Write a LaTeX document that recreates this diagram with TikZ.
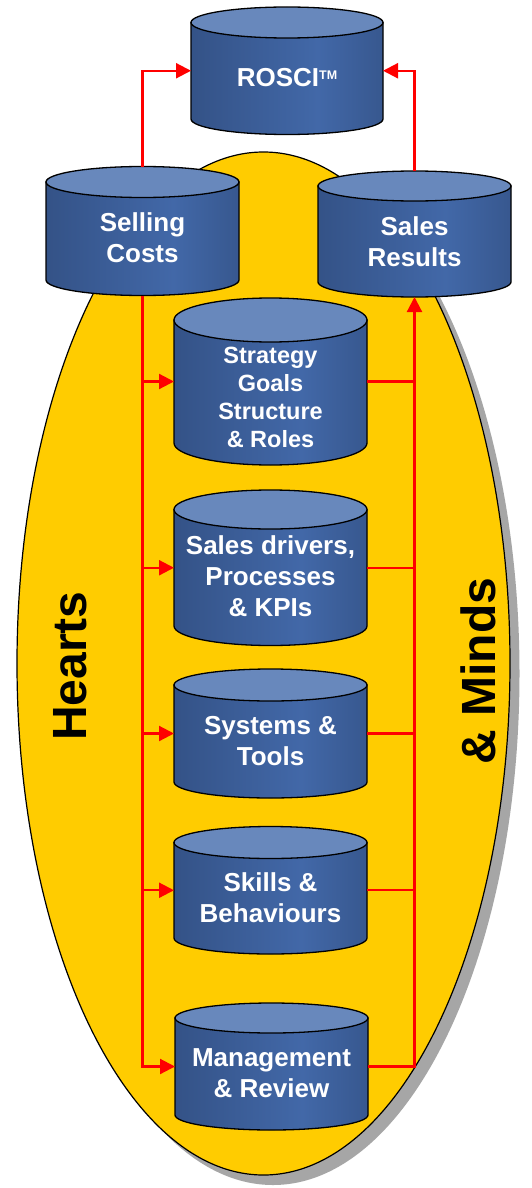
\documentclass[tikz,border=0pt]{standalone}
\usepackage{fontspec}
\setmainfont{Liberation Sans}
\usetikzlibrary{arrows.meta}

\definecolor{drumdark}{RGB}{44,70,116}
\definecolor{drummid}{RGB}{66,104,168}
\definecolor{drumtop}{RGB}{104,136,188}
\definecolor{bubble}{RGB}{255,204,0}
\definecolor{bubbleshadow}{RGB}{166,166,166}
\definecolor{flow}{RGB}{255,0,0}

\pgfdeclarehorizontalshading{drumbody}{100bp}{%
  color(0bp)=(drumdark); color(14bp)=(drumdark!85!drummid);
  color(58bp)=(drummid); color(86bp)=(drumdark!80!drummid);
  color(100bp)=(drumdark)}

\tikzset{
  drumline/.style={draw=black, line width=1.3pt},
  drumframe/.style={shape=rectangle, inner sep=0pt, outer sep=0pt},
  drumlabel/.style={text=white, align=center, inner sep=0pt,
    font=\bfseries\fontsize{26}{31}\selectfont},
  smalllabel/.style={font=\bfseries\fontsize{23.5}{28}\selectfont},
  sidetext/.style={text=black, inner sep=0pt, rotate=90,
    font=\bfseries\fontsize{48}{48}\selectfont},
  flowline/.style={draw=flow, line width=2.2pt},
  flowarrow/.style={flowline, -{Triangle[length=15pt,width=15pt]}},
}

% \drum{name}{cx}{top y}{bottom y}{rx}{ry}{label options}{label}
% y values are measured downwards from the top edge of the picture
\newcommand\drum[8]{%
  \path[shade, shading=drumbody, drumline]
    ({#2-#5},{-#3}) -- ({#2-#5},{-#4})
    arc[start angle=180, end angle=360, x radius=#5, y radius=#6]
    -- ({#2+#5},{-#3}) -- cycle;
  \path[fill=drumtop, drumline] (#2,{-#3}) ellipse[x radius=#5, y radius=#6];
  \node[drumframe, minimum width={2*#5}, minimum height={#4-#3+2*#6}]
    (#1) at (#2,{-(#3+#4)/2}) {};
  \node[drumlabel, #7] at (#1.center) {#8};
}

\begin{document}
\begin{tikzpicture}[x=1pt, y=1pt]
  \useasboundingbox (0,0) rectangle (531,-1188);
  \fill[white] (0,0) rectangle (531,-1188);

  % the large bubble with its drop shadow
  \fill[bubbleshadow] (273,-673.5) ellipse[x radius=246.5, y radius=511.5];
  \path[fill=bubble, draw=black, line width=1.2pt]
    (263.5,-663.5) ellipse[x radius=246.5, y radius=511.5];

  % side captions
  \node[sidetext] (hearts) at (70.6,-666) {Hearts};
  \node[sidetext] (minds) at (478.5,-671) {\& Minds};

  % drums
  \drum{rosci}{287}{22.5}{119}{96}{15.5}{yshift=-7}%
    {ROSCI\raisebox{7pt}{\fontsize{12.5}{12.5}\selectfont TM}}
  \drum{sell}{142.5}{182}{280}{96.5}{15.5}{yshift=-6.5}{Selling\\Costs}
  \drum{res}{414.5}{186}{282}{96.5}{15}{yshift=-7.5}{Sales\\Results}
  \drum{strat}{270.5}{320}{443}{96.5}{22}{smalllabel, yshift=-15.5}%
    {Strategy\\Goals\\Structure\\\& Roles}
  \drum{drv}{270.5}{509.5}{626}{96.5}{19.5}{yshift=-8}%
    {Sales drivers,\\Processes\\\& KPIs}
  \drum{sys}{270.5}{685}{782}{96.5}{16}{yshift=-8}{Systems \&\\Tools}
  \drum{skl}{270.5}{842.5}{938}{96.5}{16}{yshift=-7}{Skills \&\\Behaviours}
  \drum{mgmt}{271.5}{1018}{1115}{96.5}{15}{yshift=-7}{Management\\\& Review}

  % flows into the return measure
  \draw[flowarrow] (sell.north) |- (rosci.west);
  \draw[flowarrow] (res.north) |- (rosci.east);

  % costs feed every building block
  \draw[flowarrow] (sell.south) |- (mgmt.west);
  \foreach \blk in {strat, drv, sys, skl}
    \draw[flowarrow] (sell.south |- \blk.west) -- (\blk.west);

  % every building block drives results
  \draw[flowarrow] (mgmt.east) -| (res.south);
  \foreach \blk in {strat, drv, sys, skl}
    \draw[flowline] (\blk.east) -- (\blk.east -| res.south);
\end{tikzpicture}
\end{document}
